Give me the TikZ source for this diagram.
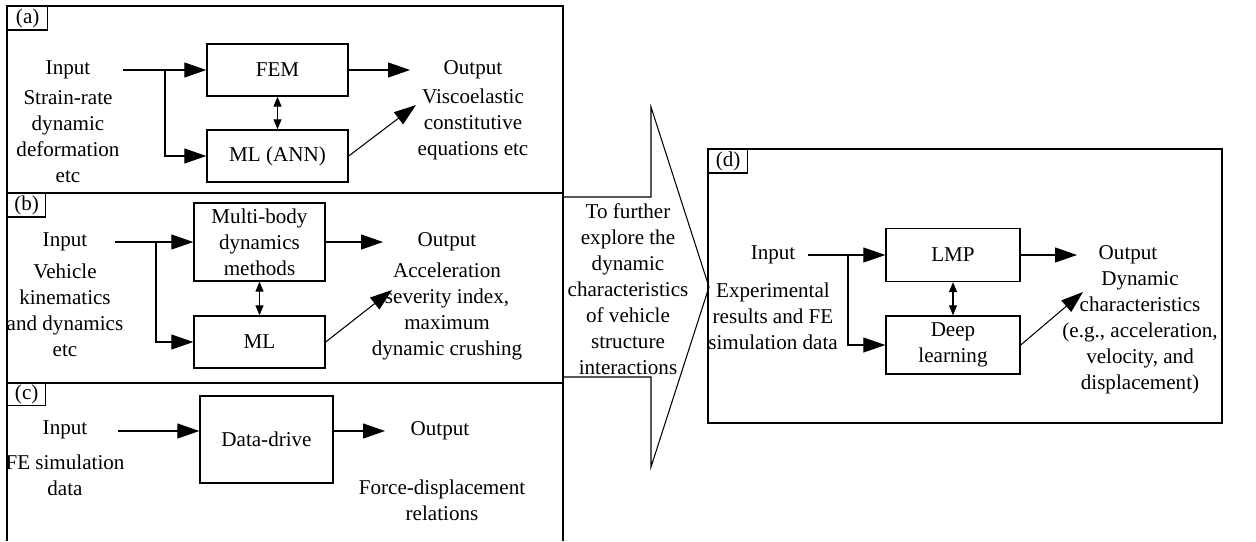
\documentclass[tikz,border=0pt]{standalone}
\usepackage{fontspec}
\setmainfont{Liberation Serif}
\usetikzlibrary{arrows.meta}

\tikzset{
	lbl/.style={font=\fontsize{12}{14.8}\selectfont, align=center, inner sep=0pt},
	blk/.style={lbl, draw, line width=0.8pt},
	tag/.style={lbl, draw, line width=0.8pt, anchor=north west, minimum width=0.8cm, minimum height=0.47cm},
	flow/.style={line width=0.6pt, -{Triangle[length=0.44cm, width=0.3cm]}},
	both/.style={line width=0.6pt, {Triangle[length=0.2cm, width=0.16cm]}-{Triangle[length=0.2cm, width=0.16cm]}}
}

\begin{document}
\begin{tikzpicture}[x=0.02cm, y=-0.02cm]
			%%%%% START %%%%%
			\useasboundingbox (0,0) rectangle (1256,541);
			
			\draw[line width=0.8pt] (7,541) -- (7,6) -- (563,6) -- (563,541);
			\draw[line width=0.8pt] (7,193) -- (563,193);
			\draw[line width=0.8pt] (7,383) -- (563,383);
			\draw[line width=0.8pt] (708,149) rectangle (1222,423);
			\draw[line width=0.6pt] (563,197) -- (651,197) -- (651,107) -- (709,287) -- (651,467) -- (651,377) -- (563,377);
			
			\node[tag] (tagA) at (7,6) {(a)};
			\node[tag, minimum width=0.76cm] (tagB) at (7,193) {(b)};
			\node[tag, minimum width=0.76cm, minimum height=0.44cm] (tagC) at (7,383) {(c)};
			\node[tag, minimum width=0.78cm] (tagD) at (708,149) {(d)};
			
			% (a)
			\node[lbl] (inA) at (68,70) {Input};
			\node[lbl] (inAtxt) at (68,137) {Strain-rate\\dynamic\\deformation\\etc};
			\node[blk, minimum width=2.82cm, minimum height=1.04cm] (fem) at (277.5,70) {FEM};
			\node[blk, minimum width=2.82cm, minimum height=1.04cm] (mlann) at (277.5,156) {ML (ANN)};
			\node[lbl] (outA) at (473,70) {Output};
			\node[lbl] (outAtxt) at (473,124) {Viscoelastic\\constitutive\\equations etc};
			\coordinate (sA) at (123,70);
			\coordinate (jA) at (165,70);
			\coordinate (oA1) at (410,70);
			\coordinate (oA2) at (416,105);
			\draw[flow] (sA) -- (fem.west);
			\draw[flow] (jA) |- (mlann.west);
			\draw[flow] (fem.east) -- (oA1);
			\draw[flow] (mlann.east) -- (oA2);
			\draw[both] (fem.south) -- (mlann.north);
			
			% (b)
			\node[lbl] (inB) at (65,242) {Input};
			\node[lbl] (inBtxt) at (65,310) {Vehicle\\kinematics\\and dynamics\\etc};
			\node[blk, minimum width=2.62cm, minimum height=1.56cm] (mbd) at (259.5,242) {Multi-body\\dynamics\\methods};
			\node[blk, minimum width=2.62cm, minimum height=1.04cm] (ml) at (259.5,342) {ML};
			\node[lbl] (outB) at (447,242) {Output};
			\node[lbl] (outBtxt) at (447,311) {Acceleration\\severity index,\\maximum\\dynamic crushing};
			\coordinate (sB) at (115,242);
			\coordinate (jB) at (156,242);
			\coordinate (oB1) at (383,242);
			\coordinate (oB2) at (392,290);
			\draw[flow] (sB) -- (mbd.west);
			\draw[flow] (jB) |- (ml.west);
			\draw[flow] (mbd.east) -- (oB1);
			\draw[flow] (ml.east) -- (oB2);
			\draw[both] (mbd.south) -- (ml.north);
			
			% (c)
			\node[lbl] (inC) at (65,430) {Input};
			\node[lbl] (inCtxt) at (65,475) {FE simulation\\data};
			\node[blk, minimum width=2.66cm, minimum height=1.74cm] (dd) at (266.5,439.5) {Data-drive};
			\node[lbl] (outC) at (440,431) {Output};
			\node[lbl] (outCtxt) at (442,500) {Force-displacement\\relations};
			\coordinate (sC) at (118,431);
			\coordinate (oC) at (385,431);
			\draw[flow] (sC) -- (sC -| dd.west);
			\draw[flow] (dd.east |- sC) -- (oC);
			
			% arrow
			\node[lbl] (mid) at (628,289) {To further\\explore the\\dynamic\\characteristics\\of vehicle\\structure\\interactions};
			
			% (d)
			\node[lbl] (inD) at (773,255) {Input};
			\node[lbl] (inDtxt) at (773,316) {Experimental\\results and FE\\simulation data};
			\node[blk, minimum width=2.68cm, minimum height=1.06cm] (lmp) at (953,255) {LMP};
			\node[blk, minimum width=2.68cm, minimum height=1.16cm] (deep) at (953,345) {Deep\\learning};
			\node[lbl] (outD) at (1128,255) {Output};
			\node[lbl] (outDtxt) at (1140,333) {Dynamic\\characteristics\\(e.g., acceleration,\\velocity, and\\displacement)};
			\coordinate (sD) at (808,255);
			\coordinate (jD) at (848,255);
			\coordinate (oD1) at (1077,255);
			\coordinate (oD2) at (1083,292);
			\draw[flow] (sD) -- (lmp.west);
			\draw[flow] (jD) |- (deep.west);
			\draw[flow] (lmp.east) -- (oD1);
			\draw[flow] (deep.east) -- (oD2);
			\draw[both] (lmp.south) -- (deep.north);
			
			%%%%% END %%%%%
		\end{tikzpicture}
\end{document}
